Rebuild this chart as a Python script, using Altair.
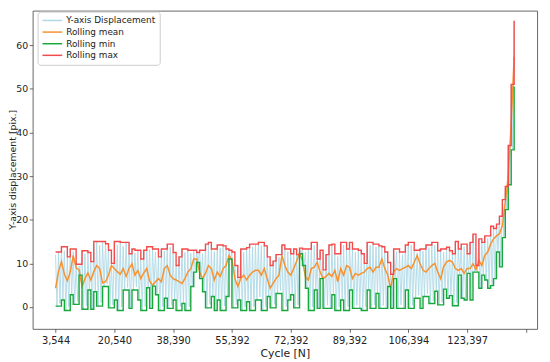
import altair as alt
import pandas as pd

# x-axis: sample index; tick every 20 samples, labelled with the cycle number
tick_step = 20
tick_labels = ["3,544", "20,540", "38,390", "55,392", "72,392", "89,392", "106,394", "123,397", ""]

series_names = ["Y-axis Displacement", "Rolling mean", "Rolling min", "Rolling max"]
series_colors = ["#add8e6", "#f7922f", "#17a83c", "#f44a4a"]

rolling_max = [
    12.6, 12.6, 13.8, 13.8, 11.5, 13.3, 13.3, 9.8, 9.8, 12.9, 12.9, 12.5, 10.4, 15.0, 15.0, 15.0, 15.0, 14.5, 13.0, 10.0,
    15.0, 15.0, 14.8, 14.8, 14.8, 12.2, 13.3, 13.0, 13.0, 11.0, 13.0, 13.8, 13.8, 13.3, 13.3, 11.5, 13.3, 13.3, 14.4, 14.4,
    12.5, 9.5, 11.5, 13.3, 13.3, 13.0, 13.0, 13.0, 12.5, 13.0, 13.0, 14.4, 14.8, 13.3, 13.3, 14.2, 14.2, 14.0, 13.3, 13.0,
    12.6, 9.5, 6.8, 13.3, 13.3, 13.6, 14.4, 14.4, 14.4, 14.8, 14.8, 14.0, 11.5, 9.5, 10.5, 12.0, 12.0, 14.2, 13.3, 13.3,
    12.2, 13.3, 12.0, 13.5, 13.3, 13.3, 13.3, 14.8, 14.8, 11.0, 13.0, 8.5, 12.0, 14.2, 14.4, 12.2, 12.2, 14.8, 14.8, 13.3,
    14.8, 13.3, 13.3, 13.0, 12.2, 10.0, 14.8, 14.8, 14.4, 14.4, 14.0, 13.8, 12.6, 10.2, 7.5, 13.3, 13.3, 12.6, 12.6, 14.2,
    14.8, 14.8, 13.0, 13.0, 13.3, 13.3, 14.2, 14.2, 14.8, 14.8, 12.9, 13.3, 13.3, 13.7, 12.9, 12.2, 15.0, 13.3, 14.4, 14.4,
    12.2, 14.8, 16.7, 9.5, 15.6, 14.8, 16.3, 16.3, 18.5, 18.0, 19.0, 20.8, 24.6, 27.6, 37.0, 51.0, 65.6,
]

rolling_min = [
    0.2, 0.2, 1.6, -0.8, -0.8, 2.8, 0.6, 0.6, 7.3, -0.5, -0.5, 3.9, -0.5, 3.5, 0.2, 0.2, 4.7, 4.7, -0.2, -0.2,
    1.6, -0.8, -0.8, 3.9, 3.9, -0.3, 3.9, 3.9, 1.6, -0.8, -0.8, 4.4, -0.3, 4.8, 2.8, -0.8, -0.8, 2.0, -0.3, -0.3,
    1.6, -0.8, -0.8, 0.8, -0.8, -0.8, 4.7, 8.0, 10.2, 6.5, 3.5, -0.2, -0.2, 2.4, -0.8, 1.6, -0.8, -0.8, 2.4, 11.0,
    -0.2, -0.2, 1.6, -0.8, -0.8, 1.2, -0.8, -0.8, 1.6, 1.6, -0.8, -0.8, 2.4, -0.2, -0.2, 3.1, 3.1, -0.8, -0.8, 1.6,
    2.8, -0.2, -0.2, 12.2, 9.5, 4.3, -0.8, -0.8, 3.9, -0.3, 6.5, -0.3, -0.3, -0.3, 2.8, -0.8, -0.8, 1.6, -0.8, -0.8,
    3.9, -0.3, -0.3, -0.3, -0.8, -0.8, 3.9, -0.3, -0.3, 3.1, -0.3, -0.3, -0.3, 4.7, -0.3, 6.5, -0.3, -0.3, -0.3, 3.9,
    -0.3, -0.3, 2.0, 2.0, -0.3, 2.4, 2.4, 0.8, 0.8, 3.6, 0.5, 0.5, 4.1, 2.0, 2.6, 0.3, 0.3, 7.3, 2.0, 1.6,
    7.7, 1.6, 8.0, 8.0, 4.3, 7.3, 6.2, 4.3, 4.9, 6.5, 12.6, 9.2, 15.9, 22.3, 28.0, 36.0, 50.5,
]

rolling_mean = [
    4.3, 8.1, 10.4, 7.5, 6.0, 8.0, 11.8, 9.0, 8.5, 4.7, 6.5, 7.8, 6.2, 8.1, 9.5, 8.8, 5.5, 5.8, 7.3, 9.5,
    8.8, 8.1, 7.5, 8.8, 7.0, 8.8, 9.9, 7.3, 8.4, 6.5, 7.8, 8.8, 6.0, 5.0, 5.8, 6.5, 5.8, 8.8, 9.5, 7.3,
    6.5, 6.2, 5.8, 5.4, 6.5, 8.0, 8.8, 11.0, 11.0, 8.0, 6.5, 7.7, 9.5, 8.8, 6.2, 8.0, 7.0, 8.8, 9.5, 11.8,
    10.8, 6.5, 4.7, 6.5, 7.3, 6.2, 7.3, 8.0, 8.4, 8.4, 7.3, 8.8, 6.5, 4.3, 5.4, 6.5, 7.3, 11.8, 9.5, 8.0,
    7.3, 8.8, 10.5, 12.4, 10.6, 6.9, 6.2, 8.8, 9.1, 10.3, 8.0, 6.5, 7.0, 7.7, 7.0, 8.4, 5.8, 8.8, 7.3, 9.5,
    9.1, 6.5, 7.7, 7.3, 7.7, 8.0, 8.8, 9.1, 8.0, 9.1, 9.1, 11.0, 8.8, 7.3, 4.3, 8.0, 8.8, 8.4, 8.8, 9.1,
    9.5, 8.8, 10.2, 11.8, 9.9, 8.4, 8.0, 8.8, 9.5, 10.0, 8.0, 6.5, 9.2, 10.3, 10.7, 10.3, 8.8, 8.4, 8.8, 7.7,
    8.8, 8.8, 9.9, 8.6, 10.7, 9.5, 11.8, 12.6, 14.4, 15.6, 16.3, 16.8, 18.6, 24.0, 30.0, 42.0, 57.3,
]

# raw displacement: one peak per sample and one trough half a sample later
disp_peaks = [
    12.0, 12.6, 13.8, 12.9, 11.5, 13.3, 12.7, 9.8, 9.4, 12.9, 12.2, 12.5, 10.4, 14.3, 15.0, 14.1, 15.0, 14.5, 13.0, 10.0,
    15.0, 14.2, 14.8, 13.9, 14.8, 12.2, 13.3, 12.4, 13.0, 11.0, 13.0, 13.8, 13.1, 13.3, 12.6, 11.5, 13.3, 12.8, 14.4, 13.7,
    12.5, 9.5, 11.5, 13.3, 12.5, 13.0, 12.3, 13.0, 12.5, 13.0, 12.2, 14.4, 14.8, 13.3, 12.7, 14.2, 13.5, 14.0, 13.3, 13.0,
    12.6, 9.5, 6.8, 13.3, 12.6, 13.6, 14.4, 13.8, 14.4, 14.8, 14.1, 14.0, 11.5, 9.5, 10.5, 12.0, 11.4, 14.2, 13.3, 12.7,
    12.2, 13.3, 12.0, 13.5, 13.3, 12.6, 13.3, 14.8, 14.1, 11.0, 13.0, 8.5, 12.0, 14.2, 14.4, 12.2, 11.6, 14.8, 14.2, 13.3,
    14.8, 13.3, 12.6, 13.0, 12.2, 10.0, 14.8, 14.1, 14.4, 13.8, 14.0, 13.8, 12.6, 10.2, 7.5, 13.3, 12.7, 12.6, 12.0, 14.2,
    14.8, 14.2, 13.0, 12.4, 13.3, 12.8, 14.2, 13.6, 14.8, 14.2, 12.9, 13.3, 12.6, 13.7, 12.9, 12.2, 15.0, 13.3, 14.4, 13.8,
    12.2, 14.8, 16.7, 9.5, 15.6, 14.8, 16.3, 15.7, 18.5, 18.0, 19.0, 20.8, 24.6, 27.6, 37.0, 51.0, 65.6,
]

disp_troughs = [
    0.2, 0.8, 1.6, -0.8, 0.1, 2.8, 0.6, 1.3, 7.3, -0.5, 0.3, 3.9, -0.5, 3.5, 0.2, 1.0, 4.7, 5.3, -0.2, 0.5,
    1.6, -0.8, 0.0, 3.9, 4.5, -0.3, 3.9, 4.6, 1.6, -0.8, 0.1, 4.4, -0.3, 4.8, 2.8, -0.8, 0.0, 2.0, -0.3, 0.4,
    1.6, -0.8, 0.1, 0.8, -0.8, 0.0, 4.7, 8.0, 10.2, 6.5, 3.5, -0.2, 0.6, 2.4, -0.8, 1.6, -0.8, 0.2, 2.4, 11.0,
    -0.2, 0.5, 1.6, -0.8, 0.0, 1.2, -0.8, 0.1, 1.6, 2.3, -0.8, 0.0, 2.4, -0.2, 0.6, 3.1, 3.8, -0.8, 0.1, 1.6,
    2.8, -0.2, 0.5, 12.2, 9.5, 4.3, -0.8, 0.0, 3.9, -0.3, 6.5, -0.3, 0.4, -0.3, 2.8, -0.8, 0.0, 1.6, -0.8, 0.1,
    3.9, -0.3, 0.4, -0.3, -0.8, 0.0, 3.9, -0.3, 0.5, 3.1, -0.3, 0.4, -0.3, 4.7, -0.3, 6.5, -0.3, 0.5, -0.3, 3.9,
    -0.3, 0.4, 2.0, 2.7, -0.3, 2.4, 3.0, 0.8, 1.4, 3.6, 0.5, 1.1, 4.1, 2.0, 2.6, 0.3, 1.0, 7.3, 2.0, 1.6,
    7.7, 1.6, 8.0, 8.0, 4.3, 7.3, 6.2, 4.3, 4.9, 6.5, 12.6, 9.2, 15.9, 22.3, 28.0, 36.0,
]

# ---- build tables
disp_rows = []
for i, v in enumerate(disp_peaks):
    disp_rows.append({"x": float(i), "value": v, "series": series_names[0]})
    if i < len(disp_troughs):
        disp_rows.append({"x": i + 0.5, "value": disp_troughs[i], "series": series_names[0]})
df_disp = pd.DataFrame(disp_rows)


def series_df(values, name):
    return pd.DataFrame({"x": list(range(len(values))), "value": values, "series": name})


df_mean = series_df(rolling_mean, series_names[1])
df_min = series_df(rolling_min, series_names[2])
df_max = series_df(rolling_max, series_names[3])

n = len(rolling_max)
tick_values = [k * tick_step for k in range(len(tick_labels))]
label_array = "[" + ",".join("'" + t + "'" for t in tick_labels) + "]"
label_expr = f"{label_array}[round(datum.value / {tick_step})]"

x_enc = alt.X(
    "x:Q",
    scale=alt.Scale(domain=[-0.05 * (n - 1), 1.05 * (n - 1)], nice=False, zero=False),
    axis=alt.Axis(values=tick_values, labelExpr=label_expr, title="Cycle [N]",
                  titlePadding=2.5, labelPadding=3.5, labelFontSize=10),
)
y_enc = alt.Y(
    "value:Q",
    scale=alt.Scale(domain=[-5, 67.9], nice=False, zero=False),
    axis=alt.Axis(values=[0, 10, 20, 30, 40, 50, 60], title="Y-axis displacement [pix.]",
                  labelFontSize=9.5, labelPadding=1.5, titleFontSize=9.5,
                  titleX=-15.5, titleY=161, titleAlign="center", titleBaseline="bottom"),
)
color_enc = alt.Color(
    "series:N",
    scale=alt.Scale(domain=series_names, range=series_colors),
    sort=series_names,
    legend=alt.Legend(
        title=None, orient="none", legendX=5, legendY=1,
        symbolType="M-2.5,0H2.5", symbolSize=64, symbolStrokeWidth=1.5,
        labelFont="DejaVu Sans", labelFontSize=9, labelColor="#222",
        padding=4, rowPadding=1.8, fillColor="white", strokeColor="#cccccc",
        cornerRadius=3, labelOffset=9, symbolOffset=6,
    ),
)


def line(df, width, interp):
    return alt.Chart(df).mark_line(strokeWidth=width, interpolate=interp).encode(
        x=x_enc, y=y_enc, color=color_enc
    )


chart = alt.layer(
    line(df_disp, 0.9, "linear"),
    line(df_mean, 1.5, "linear"),
    line(df_min, 1.4, "step-after"),
    line(df_max, 1.4, "step-after"),
).properties(
    width=512,
    height=323,
    autosize=alt.AutoSizeParams(type="none"),
    padding={"left": 25, "top": 0, "right": 5, "bottom": 31},
    background="white",
).configure_view(
    stroke="#666666", strokeWidth=1
).configure_axis(
    grid=False, domain=False, tickColor="#444444", tickSize=3.5, tickWidth=0.8,
    labelFont="DejaVu Sans", labelColor="#222222",
    titleFont="DejaVu Sans", titleFontWeight="normal", titleColor="#222222",
)

chart.save("out.html", embed_options={"renderer": "svg", "actions": False})
